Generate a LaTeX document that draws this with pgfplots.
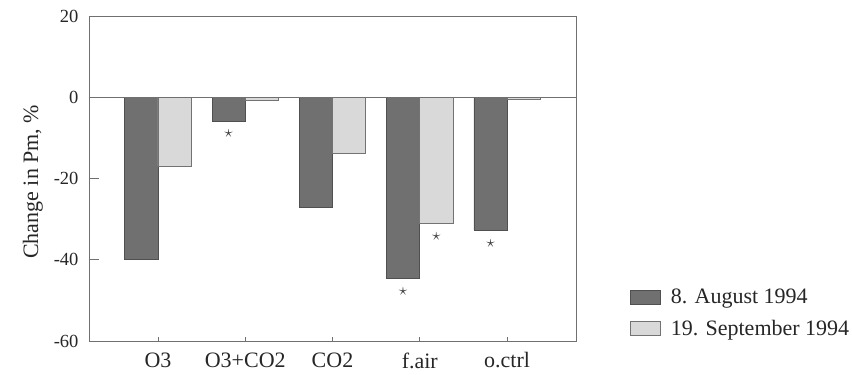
\documentclass[border=0pt]{standalone}
\usepackage{fontspec}
\setmainfont{Liberation Serif}
\usepackage{pgfplots}
\pgfplotsset{compat=1.18}
\definecolor{darkbar}{HTML}{707070}
\definecolor{lightbar}{HTML}{D9D9D9}
\definecolor{edgec}{HTML}{505050}
\definecolor{axc}{HTML}{707070}
\begin{document}
\begin{tikzpicture}
\begin{axis}[
  name=main,
  at={(0,0)}, anchor=south west,
  scale only axis,
  width=487bp, height=325bp,
  xmin=-0.79, xmax=4.79,
  ymin=-60, ymax=20,
  ytick={-60,-40,-20,0,20},
  xtick={0,1,2,3,4},
  xticklabels={O3,O3+CO2,CO2,f.air,o.ctrl},
  tick pos=left,
  tick align=inside,
  axis line style={axc, line width=0.8pt},
  every tick/.style={axc, line width=0.8pt},
  ytick style={/pgfplots/major tick length=10bp},
  xtick style={/pgfplots/major tick length=4bp},
  /pgf/number format/assume math mode=true,
  yticklabel style={font=\fontsize{18.5bp}{21bp}\selectfont, color=black!85, xshift=-7bp},
  xticklabel style={font=\fontsize{22bp}{25bp}\selectfont, color=black!85, yshift=-8bp},
  ylabel={Change in Pm, \%},
  ylabel style={font=\fontsize{22bp}{25bp}\selectfont, color=black!85, at={(axis description cs:-0.115,0.49)}, anchor=center},
  legend style={draw=none, fill=none, at={(1,0)}, anchor=south west, xshift=54bp, yshift=2bp,
    font=\fontsize{22bp}{25bp}\selectfont, text=black!85, row sep=11bp, inner sep=0pt,
    cells={anchor=west}, /tikz/every odd column/.append style={column sep=8bp}},
  legend image code/.code={\draw[#1, line width=0.6pt] (0bp,-7bp) rectangle (30bp,7bp);},
]
\addplot[ybar, bar width=0.38, bar shift=-0.19, fill=darkbar, draw=edgec, line width=0.6pt]
  coordinates {(0,-40) (1,-5.9) (2,-27.1) (3,-44.5) (4,-32.7)};
\addlegendentry{8. August 1994}
\addplot[ybar, bar width=0.38, bar shift=0.19, fill=lightbar, draw=edgec!80, line width=0.6pt]
  coordinates {(0,-16.9) (1,-0.7) (2,-13.8) (3,-31.1) (4,-0.4)};
\addlegendentry{19. September 1994}
\addplot[forget plot, axc, line width=0.8pt] coordinates {(-0.79,0) (4.79,0)};
\addplot[forget plot, only marks, mark=text, text mark={\textcolor{black!75}{\fontsize{16bp}{17bp}\selectfont$\star$}}]
  coordinates {(0.81,-9.0) (2.81,-47.8) (3.19,-34.2) (3.81,-35.9)};
\end{axis}
\pgfresetboundingbox
\path[use as bounding box] (-89bp,-34bp) rectangle (763bp,341bp);
\end{tikzpicture}
\end{document}
